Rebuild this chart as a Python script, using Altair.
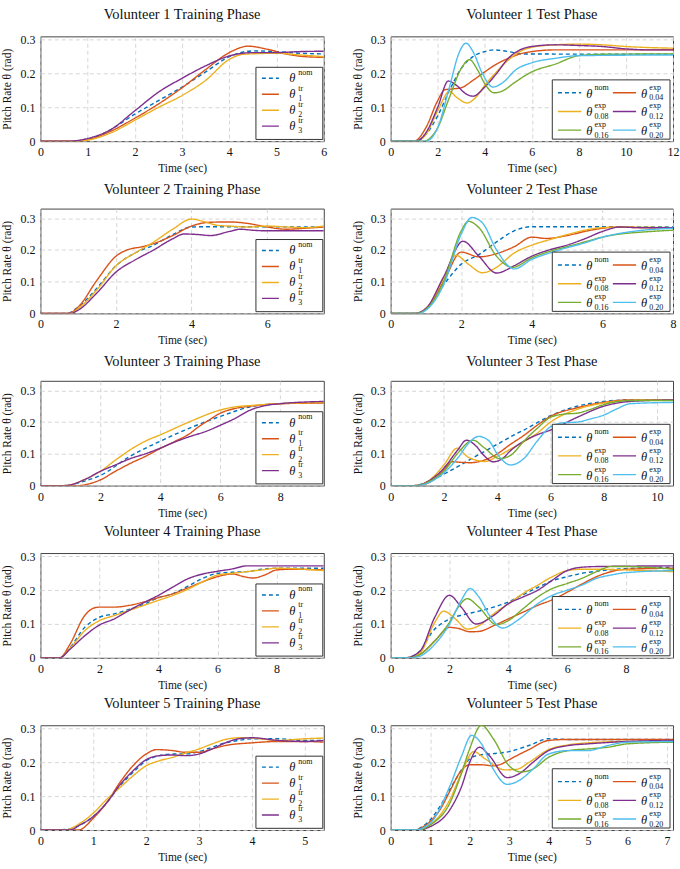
import altair as alt
import pandas as pd

SERIF = "Liberation Serif"

# ---- series styling (MATLAB-like palette) ----
SERIES_KEYS = ["nom", "tr1", "tr2", "tr3", "x04", "x08", "x12", "x16", "x20"]
SERIES_COLORS = ["#0072BD", "#D95319", "#EDB120", "#7E2F8E",
                 "#D95319", "#EDB120", "#7E2F8E", "#77AC30", "#4DBEEE"]
SERIES_DASH = [[4, 3]] + [[1, 0]] * 8

# legend text pieces: (key, superscript, subscript)
TRAIN_LEGEND = [("nom", "nom", ""), ("tr1", "tr", "1"), ("tr2", "tr", "2"), ("tr3", "tr", "3")]
TEST_LEGEND = [("nom", "nom", ""), ("x04", "exp", "0.04"),
               ("x08", "exp", "0.08"), ("x12", "exp", "0.12"),
               ("x16", "exp", "0.16"), ("x20", "exp", "0.20")]

Y_TICKS = [0, 0.1, 0.2, 0.3]

# ---- pitch response data: series -> (time [s], pitch [rad]) ----
V1_TRAIN = {
    "nom": ([0, 0.7, 1, 1.5, 2, 2.5, 3, 3.5, 4, 4.5, 5, 5.5, 6],
            [0, 0, 0.005, 0.035, 0.08, 0.12, 0.16, 0.205, 0.25, 0.267, 0.265, 0.26, 0.258]),
    "tr1": ([0, 0.8, 1, 1.5, 2, 2.5, 3, 3.5, 4, 4.4, 4.8, 5.2, 5.6, 6],
            [0, 0, 0.004, 0.03, 0.068, 0.11, 0.158, 0.212, 0.262, 0.281, 0.272, 0.258, 0.25, 0.248]),
    "tr2": ([0, 0.8, 1, 1.5, 2, 2.5, 3, 3.5, 4, 4.3, 5, 5.5, 6],
            [0, 0, 0.003, 0.025, 0.062, 0.1, 0.135, 0.18, 0.242, 0.257, 0.26, 0.255, 0.25]),
    "tr3": ([0, 0.6, 1, 1.5, 2, 2.5, 3, 3.5, 4, 4.5, 5, 5.5, 6],
            [0, 0, 0.008, 0.035, 0.09, 0.145, 0.186, 0.223, 0.252, 0.262, 0.262, 0.265, 0.266]),
}
V1_TEST = {
    "nom": ([0, 1, 1.5, 2, 2.5, 3, 3.5, 4, 4.4, 5, 5.6, 12],
            [0, 0, 0.02, 0.075, 0.15, 0.215, 0.25, 0.265, 0.27, 0.265, 0.258, 0.257]),
    "x04": ([0, 1, 1.5, 2, 2.3, 2.7, 3, 3.5, 4, 4.5, 5, 5.5, 6, 7, 8, 12],
            [0, 0, 0.04, 0.12, 0.152, 0.155, 0.158, 0.18, 0.205, 0.228, 0.245, 0.258, 0.265, 0.27, 0.27, 0.27]),
    "x08": ([0, 1.1, 1.5, 2, 2.5, 2.8, 3.25, 3.6, 4, 4.5, 5, 5.5, 6, 7, 8, 9, 10, 12],
            [0, 0, 0.02, 0.09, 0.147, 0.13, 0.113, 0.128, 0.165, 0.205, 0.24, 0.265, 0.278, 0.285, 0.287, 0.285, 0.28, 0.275]),
    "x12": ([0, 1.1, 1.5, 2, 2.45, 2.8, 3.2, 3.5, 4, 4.5, 5, 5.5, 6, 7, 8, 9, 10, 11, 12],
            [0, 0, 0.025, 0.1, 0.178, 0.165, 0.14, 0.133, 0.16, 0.2, 0.245, 0.27, 0.28, 0.285, 0.283, 0.28, 0.273, 0.27, 0.27]),
    "x16": ([0, 1.4, 2, 2.5, 3, 3.35, 3.7, 4, 4.4, 4.8, 5.2, 6, 7, 8, 9, 12],
            [0, 0, 0.04, 0.13, 0.215, 0.241, 0.21, 0.17, 0.143, 0.15, 0.17, 0.205, 0.228, 0.253, 0.257, 0.258]),
    "x20": ([0, 1.5, 2, 2.5, 2.9, 3.2, 3.5, 3.9, 4.35, 4.8, 5.3, 6, 7, 8, 12],
            [0, 0, 0.04, 0.16, 0.26, 0.29, 0.265, 0.2, 0.16, 0.175, 0.21, 0.232, 0.245, 0.253, 0.255]),
}
V2_TRAIN = {
    "nom": ([0, 0.7, 1, 1.5, 2, 2.5, 3, 3.5, 4, 4.5, 7.5],
            [0, 0, 0.02, 0.08, 0.15, 0.19, 0.215, 0.248, 0.272, 0.273, 0.272]),
    "tr1": ([0, 0.75, 1, 1.5, 2, 2.3, 2.7, 3, 3.5, 4, 4.5, 5, 5.5, 6, 6.5, 7, 7.5],
            [0, 0, 0.02, 0.105, 0.18, 0.2, 0.21, 0.22, 0.245, 0.275, 0.287, 0.288, 0.283, 0.272, 0.265, 0.268, 0.272]),
    "tr2": ([0, 0.8, 1, 1.5, 2, 2.5, 3, 3.5, 4, 4.3, 4.7, 5, 5.5, 6, 6.5, 7, 7.5],
            [0, 0, 0.015, 0.075, 0.15, 0.19, 0.225, 0.265, 0.297, 0.29, 0.277, 0.275, 0.272, 0.275, 0.272, 0.27, 0.275]),
    "tr3": ([0, 0.8, 1, 1.5, 2, 2.5, 3, 3.5, 3.8, 4.2, 4.5, 5, 5.3, 5.6, 6, 7.5],
            [0, 0, 0.01, 0.065, 0.13, 0.168, 0.2, 0.235, 0.25, 0.248, 0.245, 0.258, 0.265, 0.262, 0.26, 0.26]),
}
V2_TEST = {
    "nom": ([0, 0.7, 1, 1.5, 2, 2.5, 3, 3.5, 4, 8],
            [0, 0, 0.015, 0.09, 0.155, 0.185, 0.225, 0.26, 0.273, 0.272]),
    "x04": ([0, 0.7, 1, 1.5, 2, 2.5, 3, 3.5, 4, 4.4, 5, 5.5, 6, 6.5, 7, 8],
            [0, 0, 0.015, 0.1, 0.193, 0.178, 0.188, 0.21, 0.24, 0.236, 0.245, 0.258, 0.268, 0.272, 0.27, 0.268]),
    "x08": ([0, 0.7, 1, 1.5, 1.85, 2.2, 2.6, 3, 3.5, 4, 4.5, 5, 5.5, 6, 6.5, 8],
            [0, 0, 0.015, 0.11, 0.183, 0.155, 0.128, 0.145, 0.19, 0.215, 0.232, 0.248, 0.262, 0.27, 0.272, 0.27]),
    "x12": ([0, 0.7, 1, 1.5, 2.05, 2.5, 3, 3.5, 4, 4.5, 5, 5.5, 6, 6.5, 7, 8],
            [0, 0, 0.015, 0.115, 0.227, 0.18, 0.127, 0.15, 0.18, 0.2, 0.215, 0.235, 0.258, 0.272, 0.27, 0.27]),
    "x16": ([0, 0.75, 1, 1.5, 2, 2.2, 2.5, 3, 3.45, 4, 4.5, 5, 5.5, 6, 6.5, 7, 8],
            [0, 0, 0.012, 0.1, 0.26, 0.29, 0.27, 0.18, 0.145, 0.175, 0.195, 0.21, 0.225, 0.24, 0.25, 0.255, 0.262]),
    "x20": ([0, 0.8, 1, 1.5, 2, 2.3, 2.6, 3, 3.5, 4, 4.5, 5, 5.5, 6, 7, 8],
            [0, 0, 0.01, 0.09, 0.25, 0.302, 0.285, 0.2, 0.14, 0.17, 0.19, 0.207, 0.222, 0.24, 0.26, 0.268]),
}
V3_TRAIN = {
    "nom": ([0, 0.8, 1.5, 2, 3, 4, 5, 6, 7, 8, 9.45],
            [0, 0, 0.015, 0.032, 0.093, 0.14, 0.182, 0.218, 0.248, 0.258, 0.262]),
    "tr1": ([0, 1.3, 1.6, 2, 2.5, 3, 3.5, 4, 4.5, 5, 5.2, 5.6, 6, 6.5, 7, 8, 9.45],
            [0, 0, 0.005, 0.018, 0.045, 0.07, 0.092, 0.117, 0.14, 0.165, 0.18, 0.205, 0.228, 0.243, 0.25, 0.258, 0.26]),
    "tr2": ([0, 0.8, 1.5, 2, 2.5, 3, 3.5, 4, 5, 6, 6.5, 7, 8, 9.45],
            [0, 0, 0.02, 0.045, 0.08, 0.113, 0.14, 0.16, 0.202, 0.238, 0.248, 0.252, 0.258, 0.262]),
    "tr3": ([0, 0.8, 1.5, 2, 2.5, 3, 3.5, 4, 4.5, 5, 5.5, 6, 6.5, 7, 7.5, 8, 9.45],
            [0, 0, 0.02, 0.045, 0.065, 0.085, 0.1, 0.118, 0.138, 0.155, 0.17, 0.19, 0.212, 0.238, 0.252, 0.258, 0.265]),
}
V3_TEST = {
    "nom": ([0, 0.8, 1.5, 2, 3, 4, 4.67, 5, 6, 7, 8, 9, 10.6],
            [0, 0, 0.015, 0.036, 0.083, 0.13, 0.161, 0.175, 0.22, 0.25, 0.265, 0.27, 0.27]),
    "x04": ([0, 1, 1.5, 2, 2.3, 2.7, 3, 3.5, 4, 4.5, 5, 5.5, 6, 7, 8, 9, 10.6],
            [0, 0, 0.012, 0.05, 0.075, 0.073, 0.072, 0.08, 0.1, 0.13, 0.158, 0.19, 0.218, 0.245, 0.262, 0.27, 0.27]),
    "x08": ([0, 0.9, 1.5, 2, 2.5, 2.9, 3.55, 4, 4.5, 5, 5.5, 6, 7, 8, 9, 10.6],
            [0, 0, 0.02, 0.065, 0.118, 0.09, 0.076, 0.092, 0.115, 0.138, 0.165, 0.2, 0.24, 0.26, 0.268, 0.27]),
    "x12": ([0, 0.9, 1.5, 2, 2.5, 2.85, 3.2, 3.5, 3.85, 4.2, 4.5, 5, 5.5, 6, 7, 8, 9, 10.6],
            [0, 0, 0.018, 0.055, 0.11, 0.143, 0.125, 0.095, 0.075, 0.085, 0.11, 0.14, 0.16, 0.175, 0.215, 0.25, 0.265, 0.27]),
    "x16": ([0, 0.9, 1.5, 2, 2.5, 3.1, 3.5, 4.1, 4.5, 5, 5.5, 6, 6.5, 7, 7.5, 8, 9, 10.6],
            [0, 0, 0.015, 0.045, 0.1, 0.143, 0.12, 0.085, 0.095, 0.14, 0.18, 0.215, 0.225, 0.228, 0.24, 0.255, 0.268, 0.268]),
    "x20": ([0, 1, 1.5, 2, 2.5, 3, 3.3, 3.7, 4, 4.5, 5, 5.5, 6, 6.5, 7, 7.5, 8, 8.5, 9, 10.6],
            [0, 0, 0.012, 0.04, 0.085, 0.14, 0.155, 0.14, 0.1, 0.065, 0.085, 0.14, 0.185, 0.198, 0.2, 0.21, 0.222, 0.242, 0.258, 0.262]),
}
V4_TRAIN = {
    "nom": ([0, 0.65, 1, 1.5, 2, 2.5, 3, 3.5, 4, 4.5, 5, 5.5, 6, 6.5, 7, 7.5, 8, 9.6],
            [0, 0, 0.03, 0.09, 0.12, 0.13, 0.143, 0.158, 0.178, 0.19, 0.212, 0.235, 0.25, 0.253, 0.255, 0.262, 0.265, 0.265]),
    "tr1": ([0, 0.65, 1, 1.5, 1.8, 2, 2.5, 3, 3.5, 4, 4.5, 5, 5.5, 6, 6.5, 6.9, 7.2, 7.6, 8, 8.5, 9.6],
            [0, 0, 0.04, 0.125, 0.147, 0.15, 0.15, 0.155, 0.165, 0.178, 0.19, 0.207, 0.225, 0.24, 0.248, 0.24, 0.236, 0.245, 0.26, 0.262, 0.26]),
    "tr2": ([0, 0.65, 1, 1.5, 2, 2.5, 3, 3.5, 4, 4.5, 5, 5.5, 6, 6.5, 7, 7.5, 8, 9.6],
            [0, 0, 0.028, 0.08, 0.11, 0.125, 0.14, 0.155, 0.17, 0.185, 0.203, 0.225, 0.245, 0.25, 0.255, 0.26, 0.265, 0.258]),
    "tr3": ([0, 0.65, 1, 1.5, 2, 2.5, 3, 3.5, 4, 4.5, 5, 5.5, 6, 6.5, 7, 7.5, 9.6],
            [0, 0, 0.025, 0.065, 0.097, 0.115, 0.14, 0.163, 0.185, 0.21, 0.234, 0.248, 0.256, 0.263, 0.272, 0.272, 0.272]),
}
V4_TEST = {
    "nom": ([0, 0.5, 1, 1.4, 2, 2.5, 3, 3.5, 4, 4.5, 5, 5.5, 6, 6.5, 7, 8, 9.6],
            [0, 0, 0.02, 0.075, 0.115, 0.128, 0.138, 0.15, 0.165, 0.187, 0.208, 0.228, 0.24, 0.25, 0.256, 0.264, 0.268]),
    "x04": ([0, 0.6, 1, 1.5, 2, 2.3, 2.7, 3, 3.5, 4, 4.5, 5, 5.5, 6, 6.5, 7, 7.5, 8, 9.6],
            [0, 0, 0.01, 0.05, 0.09, 0.087, 0.077, 0.078, 0.095, 0.115, 0.135, 0.155, 0.172, 0.194, 0.218, 0.24, 0.255, 0.262, 0.265]),
    "x08": ([0, 0.5, 1, 1.5, 1.8, 2.2, 2.6, 3, 3.5, 4, 4.5, 5, 5.5, 6, 6.5, 7, 8, 9.6],
            [0, 0, 0.015, 0.105, 0.138, 0.115, 0.085, 0.095, 0.13, 0.16, 0.19, 0.215, 0.24, 0.258, 0.262, 0.262, 0.26, 0.255]),
    "x12": ([0, 0.5, 1, 1.5, 2, 2.4, 2.9, 3.5, 4, 4.5, 5, 5.5, 6, 6.5, 7, 9.6],
            [0, 0, 0.02, 0.12, 0.185, 0.15, 0.1, 0.125, 0.16, 0.18, 0.2, 0.23, 0.258, 0.268, 0.27, 0.272]),
    "x16": ([0, 0.6, 1, 1.5, 2, 2.3, 2.6, 3, 3.6, 4, 4.5, 5, 5.5, 6, 6.5, 7, 7.5, 8, 9.6],
            [0, 0, 0.01, 0.05, 0.105, 0.15, 0.175, 0.15, 0.098, 0.11, 0.145, 0.18, 0.205, 0.22, 0.235, 0.255, 0.27, 0.27, 0.262]),
    "x20": ([0, 0.7, 1, 1.5, 2, 2.4, 2.7, 3, 3.4, 3.8, 4.3, 5, 5.5, 6, 6.5, 7, 7.5, 8, 9.6],
            [0, 0, 0.005, 0.04, 0.1, 0.17, 0.205, 0.18, 0.12, 0.088, 0.11, 0.16, 0.185, 0.2, 0.215, 0.235, 0.245, 0.252, 0.258]),
}
V5_TRAIN = {
    "nom": ([0, 0.5, 0.75, 1, 1.25, 1.5, 1.75, 2, 2.25, 2.5, 2.75, 3, 3.25, 3.5, 3.75, 4, 4.5, 5, 5.36],
            [0, 0.002, 0.015, 0.04, 0.08, 0.13, 0.17, 0.205, 0.22, 0.225, 0.225, 0.232, 0.245, 0.258, 0.265, 0.27, 0.27, 0.265, 0.265]),
    "tr1": ([0, 0.72, 1, 1.25, 1.5, 1.75, 2, 2.2, 2.5, 2.75, 3, 3.25, 3.5, 4, 4.5, 5, 5.36],
            [0, 0, 0.035, 0.08, 0.14, 0.19, 0.225, 0.238, 0.235, 0.23, 0.23, 0.24, 0.25, 0.258, 0.262, 0.262, 0.26]),
    "tr2": ([0, 0.45, 0.75, 1, 1.25, 1.5, 1.75, 2, 2.25, 2.5, 2.75, 3, 3.25, 3.5, 3.75, 4, 4.5, 5, 5.36],
            [0, 0, 0.02, 0.05, 0.09, 0.125, 0.16, 0.19, 0.205, 0.215, 0.228, 0.24, 0.255, 0.268, 0.273, 0.272, 0.265, 0.27, 0.272]),
    "tr3": ([0, 0.55, 0.75, 1, 1.25, 1.5, 1.75, 2, 2.25, 2.5, 2.75, 3, 3.25, 3.5, 3.75, 4, 4.5, 5, 5.36],
            [0, 0, 0.015, 0.04, 0.08, 0.133, 0.175, 0.208, 0.22, 0.222, 0.22, 0.225, 0.24, 0.258, 0.27, 0.273, 0.265, 0.262, 0.265]),
}
V5_TEST = {
    "nom": ([0, 0.6, 0.8, 1, 1.25, 1.5, 1.75, 2, 2.25, 2.5, 3, 3.5, 4, 4.5, 7.15],
            [0, 0, 0.01, 0.03, 0.07, 0.12, 0.17, 0.21, 0.222, 0.225, 0.232, 0.25, 0.27, 0.268, 0.268]),
    "x04": ([0, 0.6, 0.8, 1, 1.25, 1.5, 1.75, 2, 2.3, 2.6, 2.8, 3, 3.5, 4, 4.5, 7.15],
            [0, 0, 0.008, 0.025, 0.06, 0.115, 0.17, 0.193, 0.193, 0.19, 0.195, 0.208, 0.238, 0.265, 0.268, 0.268]),
    "x08": ([0, 0.7, 1, 1.5, 1.8, 2.1, 2.4, 2.9, 3.2, 3.5, 4, 4.5, 5, 6, 7.15],
            [0, 0, 0.015, 0.09, 0.17, 0.232, 0.21, 0.178, 0.18, 0.2, 0.238, 0.252, 0.258, 0.262, 0.262]),
    "x12": ([0, 0.7, 1, 1.5, 1.8, 2, 2.25, 2.5, 2.95, 3.3, 3.6, 4, 4.5, 5, 6, 7.15],
            [0, 0, 0.01, 0.06, 0.13, 0.2, 0.245, 0.22, 0.155, 0.17, 0.2, 0.235, 0.25, 0.255, 0.262, 0.265]),
    "x16": ([0, 0.7, 1, 1.5, 1.8, 2, 2.3, 2.6, 3, 3.3, 3.6, 4, 4.5, 5, 5.5, 6, 7.15],
            [0, 0, 0.015, 0.08, 0.17, 0.24, 0.31, 0.27, 0.19, 0.172, 0.18, 0.215, 0.235, 0.24, 0.245, 0.255, 0.26]),
    "x20": ([0, 0.6, 1, 1.5, 1.8, 2.05, 2.3, 2.6, 2.95, 3.3, 3.6, 4, 4.5, 5, 5.5, 6, 7.15],
            [0, 0, 0.02, 0.13, 0.22, 0.28, 0.255, 0.18, 0.135, 0.15, 0.18, 0.225, 0.235, 0.235, 0.25, 0.26, 0.262]),
}

# (title, data, x max, x ticks, y max, legend kind)
PANELS = [
    ("Volunteer 1 Training Phase", V1_TRAIN, 6, [0, 1, 2, 3, 4, 5, 6], 0.31, "train"),
    ("Volunteer 1 Test Phase", V1_TEST, 12, [0, 2, 4, 6, 8, 10, 12], 0.31, "test"),
    ("Volunteer 2 Training Phase", V2_TRAIN, 7.5, [0, 2, 4, 6], 0.33, "train"),
    ("Volunteer 2 Test Phase", V2_TEST, 8, [0, 2, 4, 6, 8], 0.33, "test"),
    ("Volunteer 3 Training Phase", V3_TRAIN, 9.45, [0, 2, 4, 6, 8], 0.33, "train"),
    ("Volunteer 3 Test Phase", V3_TEST, 10.6, [0, 2, 4, 6, 8, 10], 0.33, "test"),
    ("Volunteer 4 Training Phase", V4_TRAIN, 9.6, [0, 2, 4, 6, 8], 0.31, "train"),
    ("Volunteer 4 Test Phase", V4_TEST, 9.6, [0, 2, 4, 6, 8], 0.31, "test"),
    ("Volunteer 5 Training Phase", V5_TRAIN, 5.36, [0, 1, 2, 3, 4, 5], 0.31, "train"),
    ("Volunteer 5 Test Phase", V5_TEST, 7.15, [0, 1, 2, 3, 4, 5, 6, 7], 0.31, "test"),
]

PLOT_H = 105
SCRIPT_GAP = 10.6  # vertical distance between superscript and subscript lines
COLOR_SCALE = alt.Scale(domain=SERIES_KEYS, range=SERIES_COLORS)
DASH_SCALE = alt.Scale(domain=SERIES_KEYS, range=SERIES_DASH)
INK = "#111111"


def long_frame(data):
    rows = []
    for key, (ts, vs) in data.items():
        for t, v in zip(ts, vs):
            rows.append({"t": t, "v": v, "s": key})
    return pd.DataFrame(rows)


def legend_layout(kind):
    """Pixel layout of the boxed legend inside the plot area.

    Superscript and subscript of an entry form one two-line text whose
    first line (the superscript) is centred on `sy`.
    """
    rows = []
    if kind == "train":
        box = (216, 283, 31, 103.3)
        for i, (key, sup, sub) in enumerate(TRAIN_LEGEND):
            y = 42 + 16 * i
            rows.append(dict(s=key, lx0=222, lx1=239, ly=y, tx=252.5, ty=y,
                             sx=258.5, sy=y - 5.6, scripts=f"{sup}\n{sub}"))
    else:
        box = (162, 280, 43.6, 103)
        for i, (key, sup, sub) in enumerate(TEST_LEGEND):
            col, row = i % 2, i // 2
            y = 56.5 + 18.75 * row
            off = 55 * col
            rows.append(dict(s=key, lx0=167.7 + off, lx1=191 + off, ly=y,
                             tx=199 + off, ty=y + 1, sx=204.3 + off,
                             sy=y - 5, scripts=f"{sup}\n{sub}"))
    return box, pd.DataFrame(rows)


def panel(title, data, xmax, xticks, ymax, kind, width):
    df = long_frame(data)
    lines = alt.Chart(df).mark_line(interpolate="monotone", strokeWidth=1.4, clip=True).encode(
        x=alt.X("t:Q", scale=alt.Scale(domain=[0, xmax], nice=False, zero=False),
                axis=alt.Axis(values=xticks, format="d", title="Time (sec)",
                              labelFont=SERIF, titleFont=SERIF)),
        y=alt.Y("v:Q", scale=alt.Scale(domain=[0, ymax], nice=False),
                axis=alt.Axis(values=Y_TICKS, title="Pitch Rate θ (rad)",
                              labelFont=SERIF, titleFont=SERIF,
                              labelExpr="datum.value == 0 ? '0' : format(datum.value, '.1f')")),
        color=alt.Color("s:N", scale=COLOR_SCALE, legend=None),
        strokeDash=alt.StrokeDash("s:N", scale=DASH_SCALE, legend=None),
    )

    (bx0, bx1, by0, by1), leg = legend_layout(kind)
    frame = alt.Chart(pd.DataFrame({"k": [0]})).mark_rect(
        fill="white", stroke="#333333", strokeWidth=1
    ).encode(x=alt.value(bx0), x2=alt.value(bx1), y=alt.value(by0), y2=alt.value(by1))

    samples = alt.Chart(leg).mark_rule(strokeWidth=1.4).encode(
        x=alt.X("lx0:Q", scale=None), x2="lx1:Q",
        y=alt.Y("ly:Q", scale=None),
        color=alt.Color("s:N", scale=COLOR_SCALE, legend=None),
        strokeDash=alt.StrokeDash("s:N", scale=DASH_SCALE, legend=None),
    )
    theta = alt.Chart(leg).mark_text(
        text="θ", font=SERIF, fontStyle="italic", fontSize=12.5,
        align="center", baseline="middle", color=INK
    ).encode(x=alt.X("tx:Q", scale=None), y=alt.Y("ty:Q", scale=None))
    scripts = alt.Chart(leg).mark_text(
        font=SERIF, fontSize=8, align="left", baseline="middle", color=INK,
        lineBreak="\n", lineHeight=SCRIPT_GAP
    ).encode(x=alt.X("sx:Q", scale=None), y=alt.Y("sy:Q", scale=None), text="scripts:N")

    return alt.layer(lines, frame, samples, theta, scripts).properties(
        width=width, height=PLOT_H,
        title=alt.TitleParams(text=title, font=SERIF, fontSize=14.5, fontWeight="normal",
                              color=INK, anchor="middle", frame="group", offset=11),
    )


charts = []
for i, (title, data, xmax, xticks, ymax, kind) in enumerate(PANELS):
    charts.append(panel(title, data, xmax, xticks, ymax, kind, 284 if i % 2 == 0 else 283))

chart = alt.concat(
    *charts, columns=2, spacing={"row": 67.6, "column": 67}, bounds="flush"
).properties(
    padding={"left": 1.5, "top": 5.5, "right": 0, "bottom": 0}
).configure_view(
    stroke="#444444", strokeWidth=1
).configure_axis(
    grid=True, gridColor="#cccccc", gridDash=[4, 3], gridWidth=0.8,
    domain=False, ticks=False, labelFlush=False,
    labelFont=SERIF, labelFontSize=12, labelColor=INK,
    titleFont=SERIF, titleFontSize=11.5, titleFontWeight="normal", titleColor=INK,
).configure_axisX(
    labelPadding=5.5, titlePadding=5
).configure_axisY(
    labelPadding=5.5, titlePadding=7
).configure_title(
    font=SERIF, fontSize=14.5, fontWeight="normal", color=INK
)

chart.save("out.html", embed_options={"renderer": "svg", "actions": False})
